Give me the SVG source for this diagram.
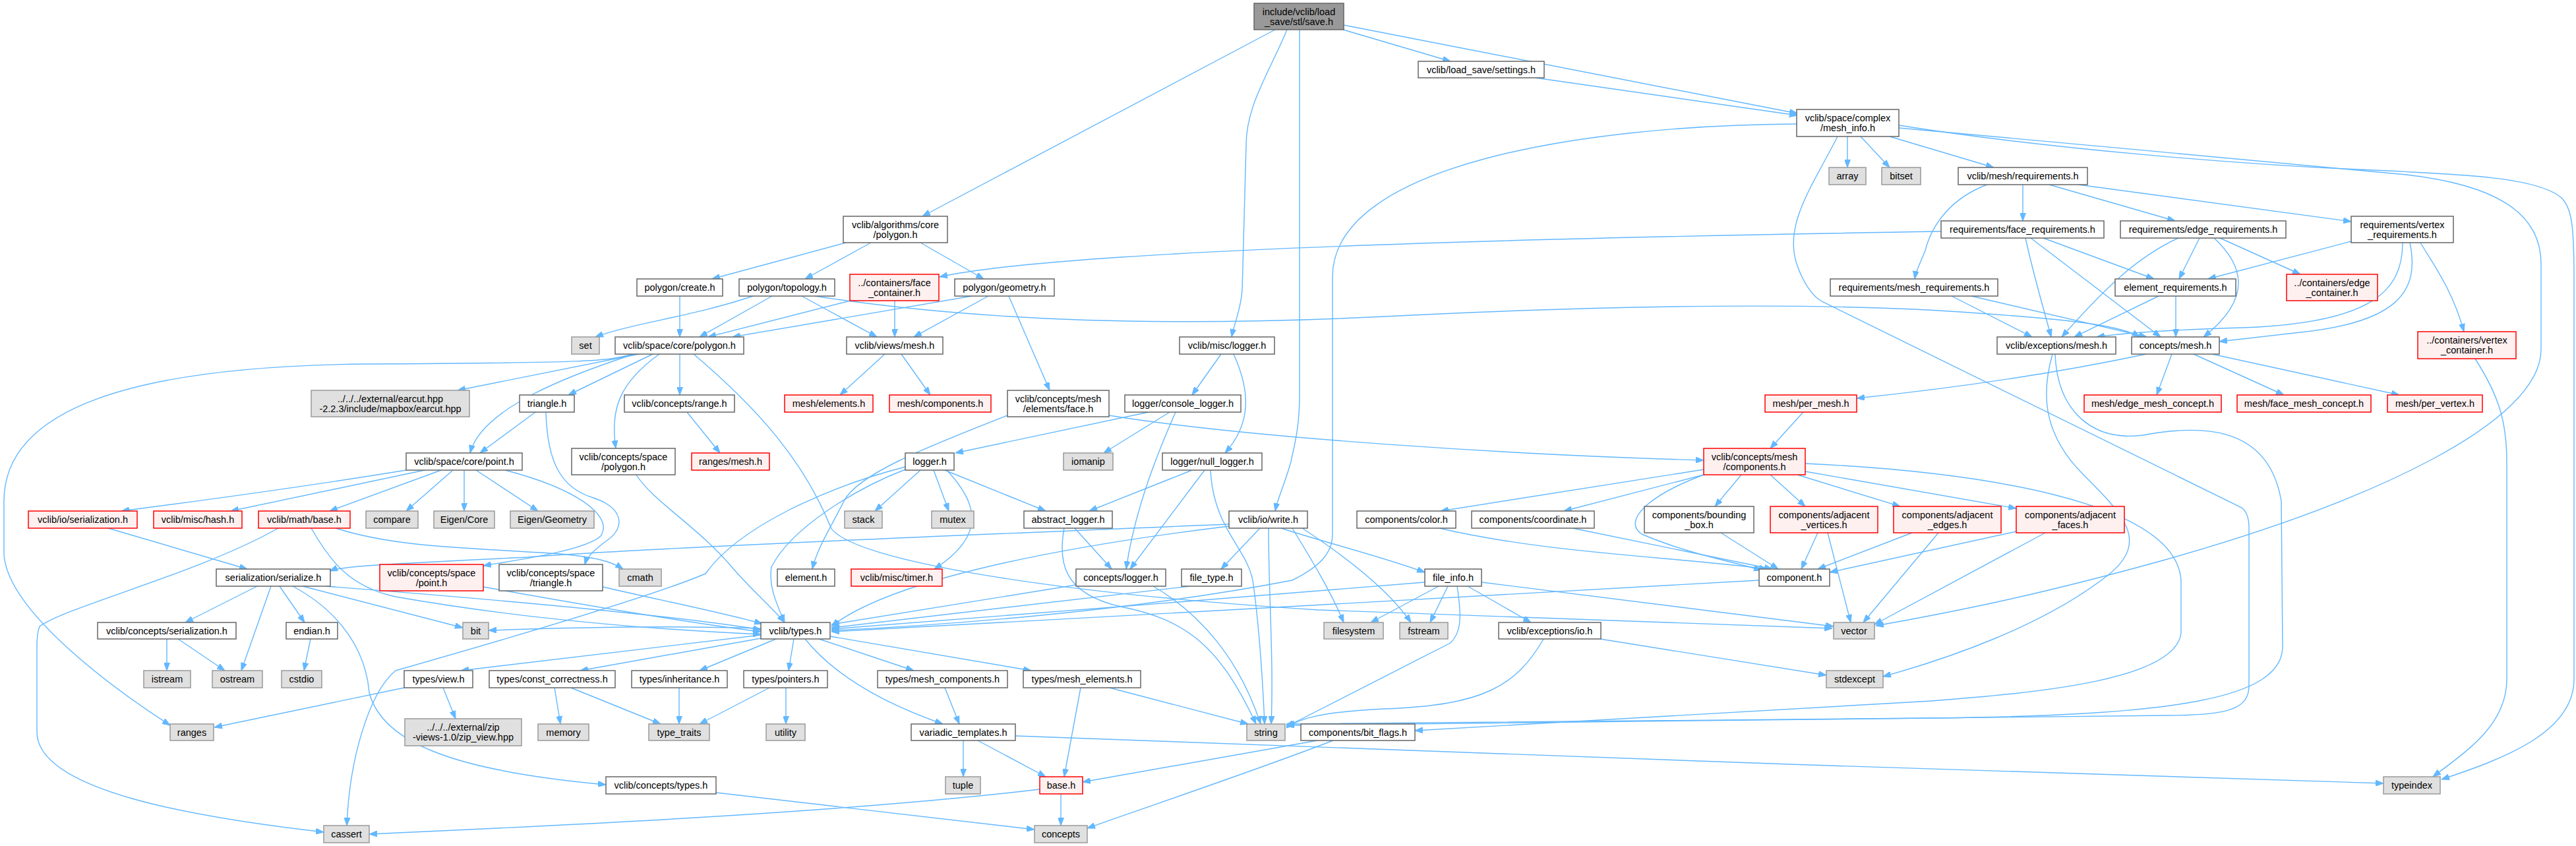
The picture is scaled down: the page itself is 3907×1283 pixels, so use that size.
<svg xmlns="http://www.w3.org/2000/svg" width="3907" height="1283" viewBox="0 0 3907 1283">
<defs>
<marker id="arr" viewBox="0 0 12 9" refX="12" refY="4.5" markerWidth="12" markerHeight="9" markerUnits="userSpaceOnUse" orient="auto"><path d="M0,0 L12,4.5 L0,9 z" fill="#63b8ff" stroke="#63b8ff"/></marker>
</defs>
<style>
.node rect{stroke-width:1.5}
.n rect{fill:#ffffff;stroke:#666666}
.g rect{fill:#e0e0e0;stroke:#999999}
.r rect{fill:#fff0f0;stroke:#ff0000}
.root rect{fill:#999999;stroke:#666666}
.node text{font-family:"Liberation Sans",Arial,sans-serif;font-size:14.5px;text-anchor:middle;fill:#000000}
.edges path{fill:none;stroke:#63b8ff;stroke-width:1.4}
</style>
<rect width="3907" height="1283" fill="#ffffff"/>
<g id="edges" class="edges" marker-end="url(#arr)">
<path d="M1934,45 L1399,328"/>
<path d="M2037,45 L2200,93"/>
<path d="M2038,38 L2726,172"/>
<path d="M1952,45 C1925,110 1890,160 1890,220 L1884,440 C1882,470 1872,490 1868,511"/>
<path d="M1971,45 L1971,600 C1971,650 1962,680 1958,700 C1950,730 1938,755 1934,775"/>
<path d="M2329,118 L2726,175"/>
<path d="M2802,207 L2802,254"/>
<path d="M2822,207 L2866,254"/>
<path d="M2866,207 L3024,254"/>
<path d="M2880,190 C3100,225 3400,250 3600,258 C3750,265 3850,270 3885,300 C3900,315 3904,340 3904,420 L3904,1030 C3904,1110 3800,1150 3703,1182"/>
<path d="M2880,194 C3100,215 3450,245 3650,265 C3780,280 3854,320 3854,400 L3854,530 C3854,640 3600,760 3280,850 C3100,900 2980,925 2845,949"/>
<path d="M2787,207 C2750,280 2705,340 2725,400 C2735,430 2750,450 2763,457 L3400,770 C3408,776 3411,785 3411,800 L3411,1040 C3411,1075 3380,1085 3286,1085 L1951,1100"/>
<path d="M2725,188 C2400,190 2021,250 2021,420 L2021,810 C2021,840 2000,860 1960,880 C1700,930 1400,950 1261,956"/>
<path d="M3068,280 L3068,335"/>
<path d="M3108,280 L3299,335"/>
<path d="M3152,280 L3566,336"/>
<path d="M3014,280 C2960,300 2930,340 2920,380 C2912,400 2906,410 2904,423"/>
<path d="M1283,368 L1080,423"/>
<path d="M1321,368 L1221,423"/>
<path d="M1396,368 L1492,423"/>
<path d="M2944,351 C2500,358 2000,370 1700,390 C1550,400 1470,410 1425,420"/>
<path d="M3099,361 L3267,423"/>
<path d="M3080,361 L3277,511"/>
<path d="M3072,361 C3085,420 3100,470 3111,511"/>
<path d="M3336,361 L3305,423"/>
<path d="M3367,361 L3489,416"/>
<path d="M3304,361 C3240,390 3190,440 3127,511"/>
<path d="M3358,361 C3400,400 3420,450 3342,511"/>
<path d="M3566,366 L3349,423"/>
<path d="M3671,368 C3690,400 3720,440 3737,503"/>
<path d="M3644,368 C3644,440 3600,490 3400,497 C3300,500 3220,505 3180,511"/>
<path d="M3655,368 C3670,440 3640,490 3480,505 C3420,512 3390,515 3366,518"/>
<path d="M2960,449 L3082,511"/>
<path d="M2990,449 L3256,511"/>
<path d="M3274,449 L3146,511"/>
<path d="M3300,449 L3300,511"/>
<path d="M1031,449 L1031,511"/>
<path d="M1142,449 C1050,480 960,490 903,511"/>
<path d="M1171,449 L1061,511"/>
<path d="M1216,449 L1330,511"/>
<path d="M1236,449 C1500,490 1800,495 2100,480 C2500,460 2800,460 3000,475 C3150,485 3220,495 3245,511"/>
<path d="M1290,456 L1074,511"/>
<path d="M1357,456 L1357,511"/>
<path d="M1474,449 L1111,511"/>
<path d="M1499,449 L1386,511"/>
<path d="M1530,449 L1592,592"/>
<path d="M1342,537 L1274,599"/>
<path d="M1367,537 L1411,599"/>
<path d="M969,537 L694,592"/>
<path d="M990,537 L862,599"/>
<path d="M962,537 C860,570 730,620 713,687"/>
<path d="M1031,537 L1031,599"/>
<path d="M1000,537 C940,580 925,620 934,680"/>
<path d="M960,537 C920,548 900,550 560,552 C200,555 6,620 6,760 L6,840 C10,920 150,1030 258,1100"/>
<path d="M1052,537 C1150,620 1220,700 1260,800 C1290,850 1600,900 2000,925 L2779,953"/>
<path d="M812,625 L728,687"/>
<path d="M828,625 C830,700 850,740 900,755 C945,770 950,800 920,820 C900,835 890,845 887,856"/>
<path d="M1042,625 L1092,687"/>
<path d="M616,713 C450,740 300,760 184,775"/>
<path d="M644,713 L350,775"/>
<path d="M669,713 L500,775"/>
<path d="M687,713 L616,775"/>
<path d="M704,713 L704,775"/>
<path d="M722,713 L816,775"/>
<path d="M766,713 C870,740 930,780 912,812 C890,835 780,850 733,858"/>
<path d="M965,720 C990,760 1060,800 1110,860 C1140,895 1170,920 1190,944"/>
<path d="M1528,630 C1400,680 1300,720 1280,760 C1260,800 1240,830 1232,863"/>
<path d="M1682,630 C1900,665 2300,690 2584,698"/>
<path d="M1742,625 L1449,687"/>
<path d="M1774,625 L1674,687"/>
<path d="M1783,625 C1750,700 1720,780 1708,863"/>
<path d="M1852,537 L1808,599"/>
<path d="M1871,537 C1895,590 1900,640 1858,687"/>
<path d="M1808,713 L1652,775"/>
<path d="M1827,713 L1714,863"/>
<path d="M1836,713 C1840,800 1890,830 1900,880 C1910,950 1915,1030 1918,1098"/>
<path d="M1396,713 L1327,775"/>
<path d="M1416,713 L1439,775"/>
<path d="M1433,713 L1586,775"/>
<path d="M1436,713 C1480,760 1500,810 1417,863"/>
<path d="M1373,712 C1300,740 1200,800 1170,860 C1165,890 1180,920 1190,944"/>
<path d="M1373,708 C1250,740 1120,800 1070,870 C1000,900 800,960 600,1017 C560,1050 530,1150 526,1252"/>
<path d="M1630,801 L1686,863"/>
<path d="M1614,801 C1605,850 1610,900 1700,920 C1800,940 1850,980 1905,1098"/>
<path d="M1632,887 L1261,947"/>
<path d="M1749,889 C1820,930 1880,1000 1912,1098"/>
<path d="M1805,889 L1261,952"/>
<path d="M1911,801 L1852,863"/>
<path d="M1864,795 C1500,810 1000,830 800,845 C600,855 520,858 500,866"/>
<path d="M1943,801 C2000,820 2100,845 2161,868"/>
<path d="M1960,801 C1990,850 2020,900 2038,944"/>
<path d="M1975,801 C2050,850 2110,900 2140,944"/>
<path d="M1864,798 C1600,830 1350,880 1261,950"/>
<path d="M1924,801 C1924,900 1932,1000 1928,1098"/>
<path d="M2182,889 L2079,944"/>
<path d="M2196,889 L2169,944"/>
<path d="M2226,889 L2322,944"/>
<path d="M2247,883 L2781,950"/>
<path d="M2210,889 C2218,940 2215,960 2200,975 L1951,1102"/>
<path d="M2161,883 C1900,905 1500,935 1261,954"/>
<path d="M2427,969 L2770,1024"/>
<path d="M2341,969 C2300,1040 2250,1070 2100,1075 C2000,1080 1970,1090 1951,1104"/>
<path d="M2668,880 C2300,900 1700,935 1261,958"/>
<path d="M2183,801 C2350,840 2550,845 2680,863"/>
<path d="M2385,801 L2688,863"/>
<path d="M2610,808 L2697,863"/>
<path d="M2757,808 L2732,863"/>
<path d="M2772,808 L2807,944"/>
<path d="M2900,808 L2757,863"/>
<path d="M2940,808 L2826,944"/>
<path d="M3058,806 L2775,868"/>
<path d="M3102,808 L2843,947"/>
<path d="M2584,712 L2185,775"/>
<path d="M2584,720 L2372,775"/>
<path d="M2641,720 L2601,768"/>
<path d="M2685,720 L2738,768"/>
<path d="M2726,720 L2882,768"/>
<path d="M2738,715 L3058,771"/>
<path d="M2590,718 C2500,750 2460,790 2490,810 C2560,840 2630,852 2672,865"/>
<path d="M2738,703 C3000,715 3300,760 3308,880 L3308,960 C3300,1030 3100,1050 2930,1063 L2146,1108"/>
<path d="M3294,537 L3271,599"/>
<path d="M3327,537 L3464,599"/>
<path d="M3355,537 L3639,599"/>
<path d="M3255,537 C3100,570 2950,590 2816,604"/>
<path d="M2735,625 L2685,680"/>
<path d="M3113,537 C3095,600 3100,660 3160,720 C3220,780 3260,820 3200,870 C3100,950 2950,1000 2856,1026"/>
<path d="M3117,537 C3120,620 3170,670 3250,660 C3330,645 3440,640 3460,760 L3462,980 C3462,1060 3300,1085 2930,1089 L1951,1098"/>
<path d="M3754,544 C3790,600 3802,640 3802,700 L3802,1030 C3802,1100 3740,1140 3690,1178"/>
<path d="M1154,963 L699,1017"/>
<path d="M1154,968 L880,1017"/>
<path d="M1177,969 L1061,1017"/>
<path d="M1204,969 L1196,1017"/>
<path d="M1221,969 C1270,1030 1350,1070 1430,1098"/>
<path d="M1242,969 L1386,1017"/>
<path d="M1259,965 L1564,1017"/>
<path d="M1154,953 C1000,948 850,952 741,956"/>
<path d="M613,1043 L325,1103"/>
<path d="M672,1043 L691,1090"/>
<path d="M841,1043 L850,1098"/>
<path d="M866,1043 L1002,1098"/>
<path d="M1030,1043 L1030,1098"/>
<path d="M1167,1043 L1061,1098"/>
<path d="M1192,1043 L1192,1098"/>
<path d="M1433,1043 L1455,1098"/>
<path d="M1639,1043 L1614,1178"/>
<path d="M1683,1043 L1893,1098"/>
<path d="M1461,1123 L1461,1178"/>
<path d="M1483,1123 L1586,1178"/>
<path d="M1540,1116 C2000,1135 3000,1170 3615,1188"/>
<path d="M1577,1197 C1300,1230 900,1250 560,1265"/>
<path d="M1609,1204 L1609,1252"/>
<path d="M1998,1123 L1642,1186"/>
<path d="M2022,1123 C1900,1170 1750,1220 1649,1256"/>
<path d="M1086,1202 L1569,1258"/>
<path d="M390,889 L281,944"/>
<path d="M411,889 L366,1017"/>
<path d="M424,889 L462,944"/>
<path d="M459,889 L702,952"/>
<path d="M444,889 C520,930 555,990 560,1050 C580,1130 700,1170 919,1190"/>
<path d="M494,889 C700,905 1000,930 1154,955"/>
<path d="M253,969 L253,1017"/>
<path d="M270,969 L341,1017"/>
<path d="M471,969 L461,1017"/>
<path d="M164,801 L375,863"/>
<path d="M422,801 C300,870 100,920 60,950 C56,960 56,970 56,980 L56,1110 C56,1200 300,1240 491,1262"/>
<path d="M472,801 C500,850 530,890 600,905 C800,940 1000,955 1154,962"/>
<path d="M509,801 C600,830 700,830 850,840 C900,845 925,850 945,863"/>
<path d="M733,890 C900,920 1050,945 1154,958"/>
<path d="M914,890 C1000,910 1100,930 1156,946"/>
</g>
<g id="n_root" class="node root"><rect x="1902" y="5" width="136" height="40"/><text x="1970" y="22.5">include/vclib/load</text><text x="1970" y="37.5">_save/stl/save.h</text></g>
<g id="n_settings" class="node n"><rect x="2151" y="93" width="191" height="25"/><text x="2246.5" y="110.5">vclib/load_save/settings.h</text></g>
<g id="n_mesh_info" class="node n"><rect x="2725" y="166" width="155" height="41"/><text x="2802.5" y="184">vclib/space/complex</text><text x="2802.5" y="199">/mesh_info.h</text></g>
<g id="n_array" class="node g"><rect x="2774" y="254" width="56" height="26"/><text x="2802" y="272">array</text></g>
<g id="n_bitset" class="node g"><rect x="2854" y="254" width="59" height="26"/><text x="2883.5" y="272">bitset</text></g>
<g id="n_requirements" class="node n"><rect x="2970" y="254" width="196" height="26"/><text x="3068" y="272">vclib/mesh/requirements.h</text></g>
<g id="n_alg_polygon" class="node n"><rect x="1279" y="328" width="158" height="40"/><text x="1358" y="345.5">vclib/algorithms/core</text><text x="1358" y="360.5">/polygon.h</text></g>
<g id="n_face_req" class="node n"><rect x="2944" y="335" width="247" height="26"/><text x="3067.5" y="353">requirements/face_requirements.h</text></g>
<g id="n_edge_req" class="node n"><rect x="3216" y="335" width="251" height="26"/><text x="3341.5" y="353">requirements/edge_requirements.h</text></g>
<g id="n_vertex_req" class="node n"><rect x="3566" y="328" width="155" height="40"/><text x="3643.5" y="345.5">requirements/vertex</text><text x="3643.5" y="360.5">_requirements.h</text></g>
<g id="n_poly_create" class="node n"><rect x="966" y="423" width="130" height="26"/><text x="1031" y="441">polygon/create.h</text></g>
<g id="n_poly_topology" class="node n"><rect x="1121" y="423" width="145" height="26"/><text x="1193.5" y="441">polygon/topology.h</text></g>
<g id="n_face_container" class="node r"><rect x="1289" y="416" width="135" height="40"/><text x="1356.5" y="433.5">../containers/face</text><text x="1356.5" y="448.5">_container.h</text></g>
<g id="n_poly_geometry" class="node n"><rect x="1448" y="423" width="151" height="26"/><text x="1523.5" y="441">polygon/geometry.h</text></g>
<g id="n_mesh_req" class="node n"><rect x="2776" y="423" width="254" height="26"/><text x="2903" y="441">requirements/mesh_requirements.h</text></g>
<g id="n_element_req" class="node n"><rect x="3208" y="423" width="183" height="26"/><text x="3299.5" y="441">element_requirements.h</text></g>
<g id="n_edge_container" class="node r"><rect x="3468" y="416" width="138" height="40"/><text x="3537" y="433.5">../containers/edge</text><text x="3537" y="448.5">_container.h</text></g>
<g id="n_set" class="node g"><rect x="867" y="511" width="42" height="26"/><text x="888" y="529">set</text></g>
<g id="n_space_polygon" class="node n"><rect x="933" y="511" width="195" height="26"/><text x="1030.5" y="529">vclib/space/core/polygon.h</text></g>
<g id="n_views_mesh" class="node n"><rect x="1284" y="511" width="146" height="26"/><text x="1357" y="529">vclib/views/mesh.h</text></g>
<g id="n_misc_logger" class="node n"><rect x="1789" y="511" width="144" height="26"/><text x="1861" y="529">vclib/misc/logger.h</text></g>
<g id="n_exc_mesh" class="node n"><rect x="3029" y="511" width="180" height="26"/><text x="3119" y="529">vclib/exceptions/mesh.h</text></g>
<g id="n_concepts_mesh" class="node n"><rect x="3233" y="511" width="133" height="26"/><text x="3299.5" y="529">concepts/mesh.h</text></g>
<g id="n_vertex_container" class="node r"><rect x="3667" y="503" width="149" height="41"/><text x="3741.5" y="521">../containers/vertex</text><text x="3741.5" y="536">_container.h</text></g>
<g id="n_earcut" class="node g"><rect x="472" y="592" width="240" height="40"/><text x="592" y="609.5">../../../external/earcut.hpp</text><text x="592" y="624.5">-2.2.3/include/mapbox/earcut.hpp</text></g>
<g id="n_triangle" class="node n"><rect x="788" y="599" width="83" height="26"/><text x="829.5" y="617">triangle.h</text></g>
<g id="n_concepts_range" class="node n"><rect x="947" y="599" width="167" height="26"/><text x="1030.5" y="617">vclib/concepts/range.h</text></g>
<g id="n_mesh_elements" class="node r"><rect x="1190" y="599" width="134" height="26"/><text x="1257" y="617">mesh/elements.h</text></g>
<g id="n_mesh_components" class="node r"><rect x="1349" y="599" width="154" height="26"/><text x="1426" y="617">mesh/components.h</text></g>
<g id="n_face_concept" class="node n"><rect x="1528" y="592" width="154" height="40"/><text x="1605" y="609.5">vclib/concepts/mesh</text><text x="1605" y="624.5">/elements/face.h</text></g>
<g id="n_console_logger" class="node n"><rect x="1706" y="599" width="176" height="26"/><text x="1794" y="617">logger/console_logger.h</text></g>
<g id="n_per_mesh" class="node r"><rect x="2677" y="599" width="139" height="26"/><text x="2746.5" y="617">mesh/per_mesh.h</text></g>
<g id="n_edge_mesh_concept" class="node r"><rect x="3161" y="599" width="208" height="26"/><text x="3265" y="617">mesh/edge_mesh_concept.h</text></g>
<g id="n_face_mesh_concept" class="node r"><rect x="3393" y="599" width="203" height="26"/><text x="3494.5" y="617">mesh/face_mesh_concept.h</text></g>
<g id="n_per_vertex" class="node r"><rect x="3621" y="599" width="144" height="26"/><text x="3693" y="617">mesh/per_vertex.h</text></g>
<g id="n_point" class="node n"><rect x="616" y="687" width="176" height="26"/><text x="704" y="705">vclib/space/core/point.h</text></g>
<g id="n_concepts_space_polygon" class="node n"><rect x="867" y="680" width="157" height="40"/><text x="945.5" y="697.5">vclib/concepts/space</text><text x="945.5" y="712.5">/polygon.h</text></g>
<g id="n_ranges_mesh" class="node r"><rect x="1049" y="687" width="118" height="26"/><text x="1108" y="705">ranges/mesh.h</text></g>
<g id="n_logger" class="node n"><rect x="1373" y="687" width="74" height="26"/><text x="1410" y="705">logger.h</text></g>
<g id="n_iomanip" class="node g"><rect x="1613" y="687" width="75" height="26"/><text x="1650.5" y="705">iomanip</text></g>
<g id="n_null_logger" class="node n"><rect x="1763" y="687" width="151" height="26"/><text x="1838.5" y="705">logger/null_logger.h</text></g>
<g id="n_concepts_mesh_components" class="node r"><rect x="2584" y="680" width="154" height="40"/><text x="2661" y="697.5">vclib/concepts/mesh</text><text x="2661" y="712.5">/components.h</text></g>
<g id="n_io_serialization" class="node r"><rect x="43" y="775" width="165" height="26"/><text x="125.5" y="793">vclib/io/serialization.h</text></g>
<g id="n_misc_hash" class="node r"><rect x="233" y="775" width="134" height="26"/><text x="300" y="793">vclib/misc/hash.h</text></g>
<g id="n_math_base" class="node r"><rect x="392" y="775" width="139" height="26"/><text x="461.5" y="793">vclib/math/base.h</text></g>
<g id="n_compare" class="node g"><rect x="555" y="775" width="79" height="26"/><text x="594.5" y="793">compare</text></g>
<g id="n_eigen_core" class="node g"><rect x="658" y="775" width="92" height="26"/><text x="704" y="793">Eigen/Core</text></g>
<g id="n_eigen_geometry" class="node g"><rect x="774" y="775" width="127" height="26"/><text x="837.5" y="793">Eigen/Geometry</text></g>
<g id="n_stack" class="node g"><rect x="1281" y="775" width="57" height="26"/><text x="1309.5" y="793">stack</text></g>
<g id="n_mutex" class="node g"><rect x="1413" y="775" width="64" height="26"/><text x="1445" y="793">mutex</text></g>
<g id="n_abstract_logger" class="node n"><rect x="1553" y="775" width="134" height="26"/><text x="1620" y="793">abstract_logger.h</text></g>
<g id="n_io_write" class="node n"><rect x="1864" y="775" width="119" height="26"/><text x="1923.5" y="793">vclib/io/write.h</text></g>
<g id="n_comp_color" class="node n"><rect x="2058" y="775" width="150" height="26"/><text x="2133" y="793">components/color.h</text></g>
<g id="n_comp_coordinate" class="node n"><rect x="2232" y="775" width="186" height="26"/><text x="2325" y="793">components/coordinate.h</text></g>
<g id="n_comp_bbox" class="node n"><rect x="2494" y="768" width="166" height="40"/><text x="2577" y="785.5">components/bounding</text><text x="2577" y="800.5">_box.h</text></g>
<g id="n_comp_adj_vertices" class="node r"><rect x="2685" y="768" width="163" height="40"/><text x="2766.5" y="785.5">components/adjacent</text><text x="2766.5" y="800.5">_vertices.h</text></g>
<g id="n_comp_adj_edges" class="node r"><rect x="2872" y="768" width="163" height="40"/><text x="2953.5" y="785.5">components/adjacent</text><text x="2953.5" y="800.5">_edges.h</text></g>
<g id="n_comp_adj_faces" class="node r"><rect x="3058" y="768" width="164" height="40"/><text x="3140" y="785.5">components/adjacent</text><text x="3140" y="800.5">_faces.h</text></g>
<g id="n_serialize" class="node n"><rect x="328" y="863" width="173" height="26"/><text x="414.5" y="881">serialization/serialize.h</text></g>
<g id="n_concepts_space_point" class="node r"><rect x="576" y="856" width="157" height="40"/><text x="654.5" y="873.5">vclib/concepts/space</text><text x="654.5" y="888.5">/point.h</text></g>
<g id="n_concepts_space_triangle" class="node n"><rect x="757" y="856" width="157" height="40"/><text x="835.5" y="873.5">vclib/concepts/space</text><text x="835.5" y="888.5">/triangle.h</text></g>
<g id="n_cmath" class="node g"><rect x="939" y="863" width="64" height="26"/><text x="971" y="881">cmath</text></g>
<g id="n_element" class="node n"><rect x="1179" y="863" width="87" height="26"/><text x="1222.5" y="881">element.h</text></g>
<g id="n_timer" class="node r"><rect x="1291" y="863" width="138" height="26"/><text x="1360" y="881">vclib/misc/timer.h</text></g>
<g id="n_concepts_logger" class="node n"><rect x="1632" y="863" width="136" height="26"/><text x="1700" y="881">concepts/logger.h</text></g>
<g id="n_file_type" class="node n"><rect x="1792" y="863" width="91" height="26"/><text x="1837.5" y="881">file_type.h</text></g>
<g id="n_file_info" class="node n"><rect x="2161" y="863" width="86" height="26"/><text x="2204" y="881">file_info.h</text></g>
<g id="n_component" class="node n"><rect x="2668" y="863" width="107" height="26"/><text x="2721.5" y="881">component.h</text></g>
<g id="n_concepts_serialization" class="node n"><rect x="148" y="944" width="210" height="25"/><text x="253" y="961.5">vclib/concepts/serialization.h</text></g>
<g id="n_endian" class="node n"><rect x="434" y="944" width="78" height="25"/><text x="473" y="961.5">endian.h</text></g>
<g id="n_bit" class="node g"><rect x="702" y="944" width="39" height="25"/><text x="721.5" y="961.5">bit</text></g>
<g id="n_types" class="node n"><rect x="1154" y="944" width="105" height="25"/><text x="1206.5" y="961.5">vclib/types.h</text></g>
<g id="n_filesystem" class="node g"><rect x="2008" y="944" width="90" height="25"/><text x="2053" y="961.5">filesystem</text></g>
<g id="n_fstream" class="node g"><rect x="2123" y="944" width="73" height="25"/><text x="2159.5" y="961.5">fstream</text></g>
<g id="n_exc_io" class="node n"><rect x="2273" y="944" width="155" height="25"/><text x="2350.5" y="961.5">vclib/exceptions/io.h</text></g>
<g id="n_vector" class="node g"><rect x="2781" y="944" width="62" height="25"/><text x="2812" y="961.5">vector</text></g>
<g id="n_istream" class="node g"><rect x="218" y="1017" width="71" height="26"/><text x="253.5" y="1035">istream</text></g>
<g id="n_ostream" class="node g"><rect x="322" y="1017" width="76" height="26"/><text x="360" y="1035">ostream</text></g>
<g id="n_cstdio" class="node g"><rect x="427" y="1017" width="61" height="26"/><text x="457.5" y="1035">cstdio</text></g>
<g id="n_types_view" class="node n"><rect x="613" y="1017" width="104" height="26"/><text x="665" y="1035">types/view.h</text></g>
<g id="n_types_const" class="node n"><rect x="742" y="1017" width="191" height="26"/><text x="837.5" y="1035">types/const_correctness.h</text></g>
<g id="n_types_inheritance" class="node n"><rect x="958" y="1017" width="145" height="26"/><text x="1030.5" y="1035">types/inheritance.h</text></g>
<g id="n_types_pointers" class="node n"><rect x="1128" y="1017" width="127" height="26"/><text x="1191.5" y="1035">types/pointers.h</text></g>
<g id="n_types_mesh_components" class="node n"><rect x="1331" y="1017" width="197" height="26"/><text x="1429.5" y="1035">types/mesh_components.h</text></g>
<g id="n_types_mesh_elements" class="node n"><rect x="1552" y="1017" width="178" height="26"/><text x="1641" y="1035">types/mesh_elements.h</text></g>
<g id="n_stdexcept" class="node g"><rect x="2770" y="1017" width="86" height="26"/><text x="2813" y="1035">stdexcept</text></g>
<g id="n_ranges" class="node g"><rect x="258" y="1098" width="66" height="25"/><text x="291" y="1115.5">ranges</text></g>
<g id="n_zip_view" class="node g"><rect x="614" y="1090" width="177" height="41"/><text x="702.5" y="1108">../../../external/zip</text><text x="702.5" y="1123">-views-1.0/zip_view.hpp</text></g>
<g id="n_memory" class="node g"><rect x="816" y="1098" width="77" height="25"/><text x="854.5" y="1115.5">memory</text></g>
<g id="n_type_traits" class="node g"><rect x="984" y="1098" width="92" height="25"/><text x="1030" y="1115.5">type_traits</text></g>
<g id="n_utility" class="node g"><rect x="1162" y="1098" width="59" height="25"/><text x="1191.5" y="1115.5">utility</text></g>
<g id="n_variadic" class="node n"><rect x="1382" y="1098" width="158" height="25"/><text x="1461" y="1115.5">variadic_templates.h</text></g>
<g id="n_string" class="node g"><rect x="1891" y="1098" width="58" height="25"/><text x="1920" y="1115.5">string</text></g>
<g id="n_bit_flags" class="node n"><rect x="1973" y="1098" width="173" height="25"/><text x="2059.5" y="1115.5">components/bit_flags.h</text></g>
<g id="n_concepts_types" class="node n"><rect x="919" y="1178" width="167" height="26"/><text x="1002.5" y="1196">vclib/concepts/types.h</text></g>
<g id="n_tuple" class="node g"><rect x="1434" y="1178" width="53" height="26"/><text x="1460.5" y="1196">tuple</text></g>
<g id="n_base" class="node r"><rect x="1577" y="1178" width="65" height="26"/><text x="1609.5" y="1196">base.h</text></g>
<g id="n_typeindex" class="node g"><rect x="3615" y="1178" width="86" height="26"/><text x="3658" y="1196">typeindex</text></g>
<g id="n_cassert" class="node g"><rect x="491" y="1252" width="69" height="26"/><text x="525.5" y="1270">cassert</text></g>
<g id="n_concepts" class="node g"><rect x="1569" y="1252" width="80" height="26"/><text x="1609" y="1270">concepts</text></g>
</svg>
